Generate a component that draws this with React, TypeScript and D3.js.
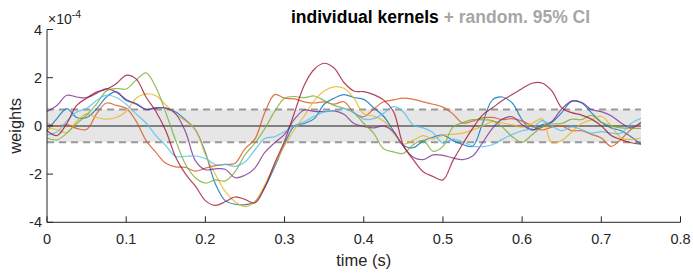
import React, { useEffect } from 'react';
import * as d3 from 'd3';

// time grid (s)
const times = d3.range(0, 61).map((i) => +(i * 0.0125).toFixed(4));

// kernel weights (x1e-4), one array per kernel
const blue = [
  -0.2, 0.3, 0.72, 0.35, 0.35, 0.7, 1.2, 1.42, 1.05, 0.93, 0.68, 0.76, 0.73, 0.58, 0.25, -0.17,
  -1.1, -2.4, -3.1, -3.25, -3.27, -3.15, -2.55, -1.7, -0.75, 0.0, 0.1, 0.3, 0.9, 1.15, 1.3, 1.18,
  1.1, 0.75, 0.4, -0.2, -0.8, -0.9, -0.62, -0.47, -0.38, -0.6, -0.77, -0.85, 0.1, 1.08, 1.2, 0.95,
  0.25, -0.17, 0.05, 0.15, 0.55, 1.02, 0.95, 0.55, 0.15, -0.08, -0.2, -0.45, -0.76,
];
const orange = [
  0.1, 0.0, 0.05, -0.1, -0.15, 0.5, 0.95, 0.85, 0.73, 0.2, -0.6, -1.1, -1.55, -1.7, -1.72, -1.88,
  -1.75, -1.65, -1.6, -1.55, -0.95, -0.55, 0.55, 1.3, 1.15, 1.12, 1.0, 0.95, 1.0, 0.9, 1.0, 0.55,
  0.38, 0.7, 1.0, 1.08, 1.15, 1.1, 1.0, 0.9, 0.78, 0.5, 0.12, 0.2, 0.33, 0.35, 0.26, 0.3,
  0.2, 0.0, -0.17, -0.05, 0.0, -0.2, -0.2, -0.35, -0.5, -0.85, -0.55, -0.15, 0.1,
];
const yellow = [
  -0.1, -0.15, -0.28, 0.2, 0.5, 0.35, 0.28, 0.35, 0.6, 1.15, 1.33, 1.25, 0.87, 0.5, 0.2, -0.15,
  -1.2, -2.0, -2.72, -3.15, -3.35, -3.15, -2.45, -1.6, -0.82, -0.15, 0.42, 1.05, 1.45, 1.62, 1.56, 1.15,
  0.5, 0.4, 0.2, -0.3, -0.75, -0.6, -0.4, -0.55, -0.38, -0.35, -0.3, -0.17, 0.0, 0.18, 0.12, 0.04,
  -0.05, 0.1, 0.3, -0.7, -0.6, -0.25, 0.1, 0.25, 0.4, 0.0, -0.5, -0.56, -0.5,
];
const purple = [
  0.6, 0.85, 1.27, 1.2, 1.17, 1.35, 1.55, 1.4, 1.1, 0.9, 0.68, 0.73, 0.75, 0.5, -0.25, -1.45,
  -1.82, -1.78, -1.8, -2.15, -2.05, -1.75, -1.1, -0.7, -0.35, 0.28, 0.66, 0.6, 0.59, 0.62, 0.48, 0.1,
  -0.02, -0.08, 0.0, -0.25, -0.85, -1.3, -1.4, -1.2, -1.22, -1.33, -1.4, -1.25, -0.7, -0.1, 0.28, 0.38,
  0.05, -0.17, -0.05, 0.18, 0.7, 1.03, 0.98, 0.68, 0.59, 0.42, 0.12, -0.08, 0.15,
];
const green = [
  -0.5, -0.58, -0.3, 0.1, 0.45, 0.9, 1.45, 1.55, 1.53, 1.9, 2.2, 1.6, 0.55, -0.6, -1.6, -2.15,
  -2.37, -2.24, -2.28, -1.9, -1.2, -0.72, -0.12, 0.6, 1.15, 1.22, 1.17, 1.24, 1.05, 0.85, 0.73, 0.55,
  0.1, -0.3, -0.95, -1.08, -1.14, -0.78, -0.6, -1.05, -0.85, -0.05, 0.13, 0.26, 0.25, 0.22, -0.05, -0.45,
  -0.68, -0.37, -0.05, 0.08, 0.1, 0.28, 0.26, 0.44, 0.15, 0.0, -0.08, -0.1, -0.1,
];
const lightBlue = [
  -0.37, -0.25, 0.2, 0.58, 0.72, 1.05, 1.28, 1.18, 0.9, 0.5, 0.12, -0.4, -0.82, -1.27, -1.26, -1.25,
  -1.35, -1.6, -1.6, -1.68, -1.5, -1.0, -0.52, -0.45, -0.24, 0.0, 0.17, 0.4, 0.58, 0.62, 0.72, 0.55,
  0.28, 0.3, 0.52, 0.8, 0.58, 0.03, -0.08, -0.28, -0.72, -0.55, -0.66, -0.84, -0.86, -0.78, -0.56, -0.35,
  -0.2, -0.1, 0.22, 0.0, -0.2, -0.04, -0.15, -0.3, -0.24, -0.3, -0.3, 0.1, 0.32,
];
const darkRed = [
  -0.2, -0.4, 0.1, 0.85, 1.15, 1.4, 1.52, 1.75, 2.1, 1.95, 1.2, 0.6, -0.2, -1.3, -2.0, -2.5,
  -3.1, -3.3, -3.15, -2.95, -3.05, -3.2, -2.55, -1.55, -0.63, 0.55, 1.7, 2.35, 2.6, 2.4, 1.8, 1.45,
  1.42, 1.3, 1.08, 0.6, -0.8, -1.4, -1.9, -2.1, -2.24, -1.45, -0.75, -0.1, 0.45, 0.75, 1.05, 1.3,
  1.55, 1.77, 1.78, 1.45, 0.75, 0.55, 0.45, 0.28, 0.0, -0.4, -0.57, -0.7, -0.76,
];

const kernels = [blue, orange, yellow, purple, green, lightBlue, darkRed];
const colors = ['#0072BD', '#D95319', '#EDB120', '#7E2F8E', '#77AC30', '#4DBEEE', '#A2142F'];

// random-permutation 95% CI
const ciBound = 0.68;
const ciEnd = 0.75;

const xTicks = [0, 0.1, 0.2, 0.3, 0.4, 0.5, 0.6, 0.7, 0.8];
const yTicks = [-4, -2, 0, 2, 4];

const W = 693;
const H = 273;
const font = 'Helvetica, Arial, "Liberation Sans", sans-serif';

export default function App() {
  useEffect(() => {
    document.body.style.margin = '0';
  }, []);

  const x = d3.scaleLinear().domain([0, 0.8]).range([47, 680.5]);
  const y = d3.scaleLinear().domain([-4, 4]).range([222.3, 29.5]);

  const line = d3
    .line<number>()
    .x((_, i) => x(times[i]))
    .y((d) => y(d))
    .curve(d3.curveCatmullRom);

  const axisColor = '#262626';

  return (
    <svg width={W} height={H} style={{ display: 'block', background: '#fff' }}>
      {/* CI band */}
      <rect
        x={x(0)}
        y={y(ciBound)}
        width={x(ciEnd) - x(0)}
        height={y(-ciBound) - y(ciBound)}
        fill="#e6e6e6"
      />
      <line x1={x(0)} x2={x(ciEnd)} y1={y(ciBound)} y2={y(ciBound)} stroke="#999" strokeWidth={2} strokeDasharray="7,5" />
      <line x1={x(0)} x2={x(ciEnd)} y1={y(-ciBound)} y2={y(-ciBound)} stroke="#999" strokeWidth={2} strokeDasharray="7,5" />
      <line x1={x(0)} x2={x(ciEnd)} y1={y(0)} y2={y(0)} stroke="#808080" strokeWidth={2} />

      {/* kernels */}
      {kernels.map((k, i) => (
        <path key={i} d={line(k) || ''} fill="none" stroke={colors[i]} strokeWidth={1.2} strokeOpacity={0.8} />
      ))}

      {/* axes */}
      <line x1={x(0)} x2={x(0.8)} y1={y(-4)} y2={y(-4)} stroke={axisColor} strokeWidth={1} />
      <line x1={x(0)} x2={x(0)} y1={y(-4)} y2={y(4)} stroke={axisColor} strokeWidth={1} />
      {xTicks.map((t) => (
        <g key={t}>
          <line x1={x(t)} x2={x(t)} y1={y(-4)} y2={y(-4) - 6} stroke={axisColor} />
          <text x={x(t)} y={y(-4) + 22} textAnchor="middle" fontFamily={font} fontSize={14.5} fill={axisColor}>
            {t === 0 ? '0' : String(t)}
          </text>
        </g>
      ))}
      {yTicks.map((t) => (
        <g key={t}>
          <line x1={x(0)} x2={x(0) + 6} y1={y(t)} y2={y(t)} stroke={axisColor} />
          <text x={x(0) - 5} y={y(t) + 5} textAnchor="end" fontFamily={font} fontSize={14.5} fill={axisColor}>
            {t}
          </text>
        </g>
      ))}

      {/* exponent */}
      <text x={48} y={24} fontFamily={font} fontSize={14} fill={axisColor}>
        ×10
        <tspan dy={-6} fontSize={10.5}>-4</tspan>
      </text>

      {/* axis labels */}
      <text
        transform={`translate(21,${y(0)}) rotate(-90)`}
        textAnchor="middle"
        fontFamily={font}
        fontSize={16.5}
        fill={axisColor}
      >
        weights
      </text>
      <text x={x(0.4)} y={266} textAnchor="middle" fontFamily={font} fontSize={16.5} fill={axisColor}>
        time (s)
      </text>

      {/* title */}
      <text x={291} y={23} fontFamily={font} fontSize={17.5} fontWeight="bold">
        <tspan fill="#000">individual kernels</tspan>
        <tspan fill="#a6a6a6"> + random. 95% CI</tspan>
      </text>
    </svg>
  );
}
